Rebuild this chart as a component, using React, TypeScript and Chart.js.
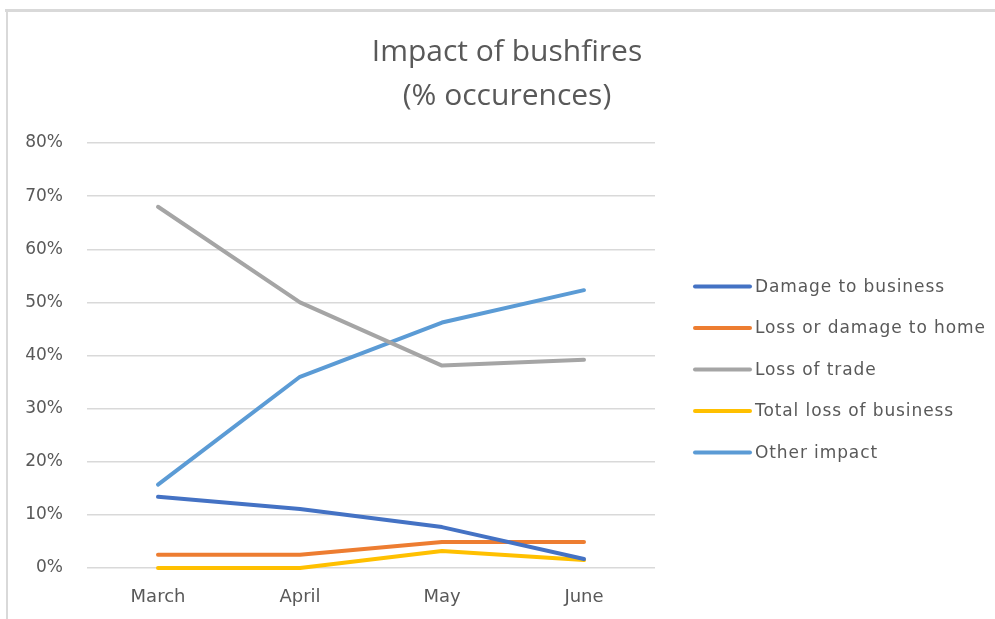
import React, { useEffect, useRef } from "react";
import { Chart, registerables } from "chart.js";

Chart.register(...registerables);

const categories = ["March", "April", "May", "June"];
const seriesNames = [
  "Damage to business",
  "Loss or damage to home",
  "Loss of trade",
  "Total loss of business",
  "Other impact",
];
const damageToBusiness = [13.4, 11.1, 7.7, 1.7];
const lossOrDamageToHome = [2.5, 2.5, 4.9, 4.9];
const lossOfTrade = [68, 50, 38.1, 39.2];
const totalLossOfBusiness = [0, 0, 3.2, 1.5];
const otherImpact = [15.7, 36, 46.2, 52.3];
const yTicks = [0, 10, 20, 30, 40, 50, 60, 70, 80];

const seriesValues = [damageToBusiness, lossOrDamageToHome, lossOfTrade, totalLossOfBusiness, otherImpact];
const seriesColors = ["#4472C4", "#ED7D31", "#A5A5A5", "#FFC000", "#5B9BD5"];

const TEXT = "#595959";
const FONT = "'DejaVu Sans', sans-serif";

const framePlugin = {
  id: "frame",
  beforeDraw(chart: any) {
    const ctx = chart.ctx;
    ctx.save();
    ctx.fillStyle = "#ffffff";
    ctx.fillRect(0, 0, chart.width, chart.height);
    ctx.fillStyle = "#d9d9d9";
    ctx.fillRect(5, 9, chart.width - 5, 3);
    ctx.fillRect(6, 9, 2, chart.height - 9);
    ctx.restore();
  },
};

// Legend drawn in the space reserved on the right of the plot
const sideLegendPlugin = {
  id: "sideLegend",
  afterDraw(chart: any) {
    const ctx = chart.ctx;
    const area = chart.chartArea;
    const x0 = area.right + 40;
    const lineLen = 55;
    const rowGap = 41.5;
    const ds = chart.data.datasets;
    const cy = (area.top + area.bottom) / 2 + 14;
    const y0 = cy - ((ds.length - 1) * rowGap) / 2;
    ctx.save();
    ctx.font = `17px ${FONT}`;
    ctx.textBaseline = "middle";
    ctx.textAlign = "left";
    (ctx as any).letterSpacing = "0.9px";
    ds.forEach((d: any, i: number) => {
      const y = y0 + i * rowGap;
      ctx.strokeStyle = d.borderColor;
      ctx.lineWidth = 4;
      ctx.lineCap = "round";
      ctx.beginPath();
      ctx.moveTo(x0, y);
      ctx.lineTo(x0 + lineLen, y);
      ctx.stroke();
      ctx.fillStyle = TEXT;
      ctx.fillText(d.label, x0 + lineLen + 5, y + 1);
    });
    ctx.restore();
  },
};

export default function App() {
  const ref = useRef<HTMLCanvasElement | null>(null);
  useEffect(() => {
    if (!ref.current) return;
    const chart = new Chart(ref.current, {
      type: "line",
      data: {
        labels: categories,
        datasets: seriesNames.map((name, i) => ({
          label: name,
          data: seriesValues[i],
          borderColor: seriesColors[i],
          backgroundColor: seriesColors[i],
          borderWidth: 4,
          borderCapStyle: "round" as const,
          borderJoinStyle: "round" as const,
          pointRadius: 0,
          tension: 0,
          fill: false,
          clip: false,
        })),
      },
      options: {
        animation: false,
        responsive: false,
        maintainAspectRatio: false,
        layout: { padding: { left: 26, right: 7, top: 10, bottom: 0 } },
        plugins: {
          title: {
            display: true,
            text: ["Impact of bushfires", "(% occurences)"],
            color: TEXT,
            font: { family: "'Open Sans', sans-serif", size: 30, weight: "normal", lineHeight: 1.467 },
            padding: { top: 20, bottom: 25 },
          },
          legend: { display: false },
          tooltip: { enabled: false },
        },
        scales: {
          x: {
            offset: true,
            grid: { display: false, drawTicks: false },
            border: { display: false },
            ticks: {
              color: TEXT,
              padding: 19,
              font: { family: FONT, size: 18 },
            },
            afterFit: (s: any) => {
              s.height = 51;
            },
          },
          y: {
            min: 0,
            max: 80,
            afterBuildTicks: (s: any) => {
              s.ticks = yTicks.map((v) => ({ value: v }));
            },
            grid: { color: "#d9d9d9", lineWidth: 1.5, drawTicks: false },
            border: { display: false },
            ticks: {
              color: TEXT,
              padding: 24,
              font: { family: FONT, size: 17 },
              callback: (v: any) => v + "%",
            },
            afterFit: (s: any) => {
              s.width = 61;
            },
          },
          legendSpace: {
            position: "right",
            display: true,
            grid: { display: false, drawTicks: false },
            border: { display: false },
            ticks: { display: false },
            afterFit: (s: any) => {
              s.width = 333;
            },
          },
        },
      },
      plugins: [framePlugin, sideLegendPlugin],
    } as any);
    return () => chart.destroy();
  }, []);
  return (
    <div style={{ position: "absolute", left: 0, top: 0, width: 995, height: 619 }}>
      <canvas ref={ref} width={995} height={619} style={{ width: 995, height: 619 }} />
    </div>
  );
}
